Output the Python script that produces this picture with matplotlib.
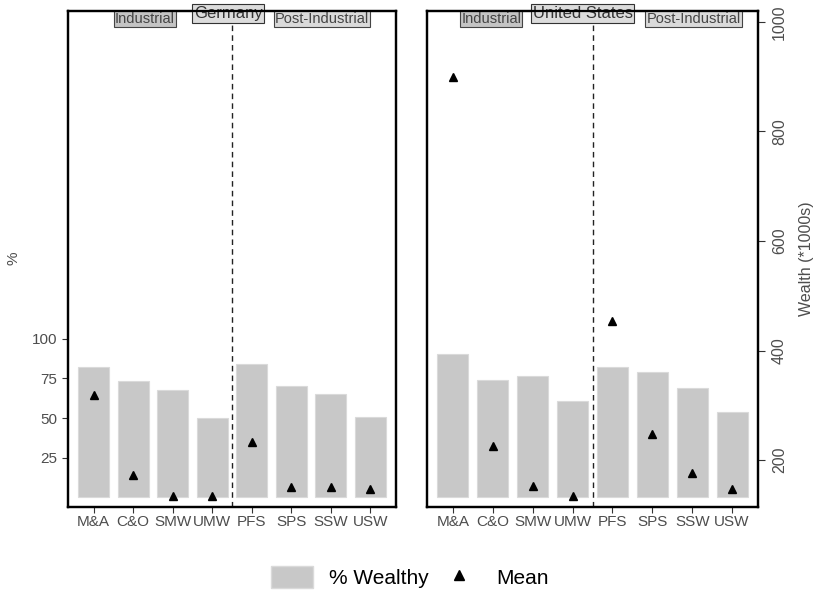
import numpy as np
import matplotlib
matplotlib.use("Agg")
import matplotlib.pyplot as plt
from matplotlib.patches import Patch
from matplotlib.lines import Line2D

plt.rcParams['font.family'] = ['Liberation Sans', 'DejaVu Sans']

# data
groups = ['M&A', 'C&O', 'SMW', 'UMW', 'PFS', 'SPS', 'SSW', 'USW']
pct_germany = [82.2, 73.2, 67.9, 50.2, 83.9, 70.2, 65.4, 50.9]
mean_germany = [319, 173, 134, 134, 233, 151, 151, 147]
pct_us = [90.2, 73.8, 76.3, 60.6, 82.2, 78.9, 69.0, 53.8]
mean_us = [900, 226, 152, 134, 454, 247, 176, 147]

W, H = 817, 590
fig = plt.figure(figsize=(W / 100, H / 100), dpi=100)

tick_col = '#4d4d4d'
bar_col = '#c8c8c8'

def panel(left_px, right_px, pct, mean, title, title_x, ind_x, post_x, show_left, show_right):
    top_px, bot_px = 11, 507
    ax = fig.add_axes([left_px / W, (H - bot_px) / H, (right_px - left_px) / W, (bot_px - top_px) / H])
    x = np.arange(len(groups))
    ax.bar(x, pct, width=0.78, color=bar_col, edgecolor='#dadada', linewidth=0.8, zorder=1)
    ax.axvline(3.5, color='#222222', lw=1.0, ls=(0, (4, 3)), zorder=2)
    ax.set_xlim(-0.65, 7.65)
    ax.set_ylim(-6.1, 306.9)
    ax.set_xticks(x)
    ax.set_xticklabels(groups, fontsize=11, color=tick_col)
    ax.tick_params(axis='x', length=4, color='#333333', pad=2)
    if show_left:
        ax.set_yticks([25, 50, 75, 100])
        ax.tick_params(axis='y', labelsize=11, labelcolor=tick_col, length=4, color='#333333')
    else:
        ax.set_yticks([])
    for s in ax.spines.values():
        s.set_linewidth(1.6)
        s.set_color('black')

    ax2 = ax.twinx()
    ax2.plot(x, mean, ls='none', marker='^', color='black', markersize=6, zorder=3)
    ax2.set_ylim(114.2, 1020)
    if show_right:
        ax2.set_yticks([200, 400, 600, 800, 1000])
        ax2.set_yticklabels(['200', '400', '600', '800', '1000'], rotation=90, va='center')
        ax2.tick_params(axis='y', labelsize=11.5, labelcolor=tick_col, length=5, color='#333333', pad=5)
        ax2.set_ylabel('Wealth (*1000s)', fontsize=11.5, color=tick_col, labelpad=9)
    else:
        ax2.set_yticks([])
    for s in ax2.spines.values():
        s.set_linewidth(1.6)
        s.set_color('black')

    tr = ax.get_xaxis_transform()
    ax.text(title_x, 0.995, title, transform=tr, ha='center', va='center', fontsize=12,
            color='#333333', zorder=10, clip_on=False,
            bbox=dict(boxstyle='square,pad=0.1', facecolor='#dcdcdc', edgecolor='#333333', lw=0.8))
    ax.text(ind_x, 0.984, 'Industrial', transform=tr, ha='center', va='center', fontsize=10.5,
            color='#444444', zorder=10, clip_on=False,
            bbox=dict(boxstyle='square,pad=0.08', facecolor='#c4c4c4', edgecolor='#444444', lw=0.8))
    ax.text(post_x, 0.984, 'Post-Industrial', transform=tr, ha='center', va='center', fontsize=10.5,
            color='#444444', zorder=10, clip_on=False,
            bbox=dict(boxstyle='square,pad=0.08', facecolor='#dadada', edgecolor='#444444', lw=0.8))
    return ax


panel(68, 396, pct_germany, mean_germany, 'Germany', 3.4, 1.3, 5.78, True, False)
panel(427, 758, pct_us, mean_us, 'United States', 3.25, 0.96, 6.03, False, True)

fig.text(13 / W, 1 - 258 / H, '%', rotation=90, ha='center', va='center', fontsize=11, color=tick_col)

handles = [Patch(facecolor=bar_col, edgecolor='#dadada', label='% Wealthy'),
           Line2D([], [], ls='none', marker='^', color='black', markersize=7, label='Mean')]
fig.legend(handles=handles, loc='center', bbox_to_anchor=(410 / W, 1 - 577 / H), ncol=2,
           frameon=False, fontsize=15, handlelength=2.0, handleheight=1.2, columnspacing=0.45,
           handletextpad=0.77)

fig.savefig('out.png', dpi=100)
